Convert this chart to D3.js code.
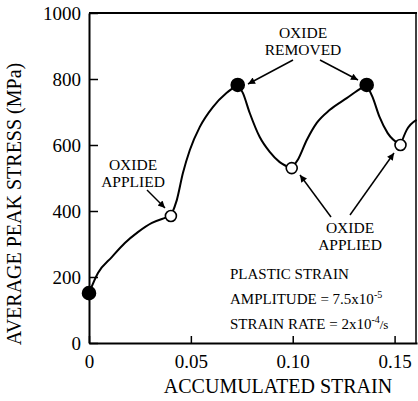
<!DOCTYPE html>
<html>
<head>
<meta charset="utf-8">
<script src="https://cdn.jsdelivr.net/npm/d3@7"></script>
<style>
body{margin:0;background:#fff}
svg text{font-family:"Liberation Serif","Times New Roman",serif !important;fill:#000}
</style>
</head>
<body>
<div id="chart"></div>
<script>
// ---- data ----
var yTicks = [0, 200, 400, 600, 800, 1000];
var yTickLabels = ["0", "200", "400", "600", "800", "1000"];
var xTicks = [0, 0.05, 0.10, 0.15];
var xTickLabels = ["0", "0.05", "0.10", "0.15"];

var markerStrain = [0, 0.0402, 0.0730, 0.0995, 0.1363, 0.1529];
var markerStress = [151, 385, 782, 530, 782, 600];
var markerFilled = [true, false, true, false, true, false];

// curve pieces between markers (the curve has a corner at each marker)
var pathStrain = [
  [0, 0.0044, 0.0113, 0.0176, 0.0240, 0.0309, 0.0373, 0.0402],
  [0.0402, 0.0431, 0.0461, 0.0495, 0.0544, 0.0608, 0.0676, 0.0730],
  [0.0730, 0.0755, 0.0789, 0.0838, 0.0887, 0.0936, 0.0995],
  [0.0995, 0.1025, 0.1069, 0.1118, 0.1181, 0.1265, 0.1338, 0.1363],
  [0.1363, 0.1392, 0.1426, 0.1466, 0.1529],
  [0.1529, 0.1559, 0.1608]
];
var pathStress = [
  [151, 212, 261, 303, 336, 364, 379, 385],
  [385, 433, 515, 585, 655, 715, 758, 782],
  [782, 758, 697, 624, 579, 548, 530],
  [530, 555, 615, 667, 706, 742, 773, 782],
  [782, 745, 685, 636, 600],
  [600, 645, 676]
];

var W = 418, H = 401;
var serif = '"Liberation Serif","Times New Roman",serif';
var x = d3.scaleLinear().domain([0, 0.161]).range([89, 417]);
var y = d3.scaleLinear().domain([0, 1000]).range([343, 13]);

var svg = d3.select("#chart").append("svg").attr("width", W).attr("height", H)
  .style("font-family", serif);

svg.append("defs").append("marker")
  .attr("id", "arr").attr("viewBox", "0 0 10 10").attr("refX", 10).attr("refY", 5)
  .attr("markerWidth", 9).attr("markerHeight", 7).attr("markerUnits", "userSpaceOnUse")
  .attr("orient", "auto")
  .append("path").attr("d", "M0,0L10,5L0,10z").attr("fill", "#000");

// frame
svg.append("line").attr("x1", x(0)).attr("x2", x(0.161)).attr("y1", y(1000)).attr("y2", y(1000))
  .attr("stroke", "#000").attr("stroke-width", 2);
svg.append("line").attr("x1", x(0.161) - 1).attr("x2", x(0.161) - 1).attr("y1", y(1000)).attr("y2", y(0))
  .attr("stroke", "#000").attr("stroke-width", 1.5);

// axes
var yAxis = svg.append("g").attr("transform", "translate(" + x(0) + ",0)")
  .call(d3.axisLeft(y).tickValues(yTicks).tickSizeInner(-9).tickSizeOuter(0)
    .tickFormat(function(d, i) { return yTickLabels[i]; }).tickPadding(8));
var xAxis = svg.append("g").attr("transform", "translate(0," + y(0) + ")")
  .call(d3.axisBottom(x).tickValues(xTicks).tickSizeInner(-7).tickSizeOuter(0)
    .tickFormat(function(d, i) { return xTickLabels[i]; }).tickPadding(12));
[yAxis, xAxis].forEach(function(g) {
  g.attr("font-family", serif);
  g.select(".domain").attr("stroke-width", 2);
  g.selectAll(".tick line").attr("stroke-width", 1.5);
  g.selectAll(".tick text").style("font-family", serif).attr("font-size", 19);
});

svg.append("text").attr("transform", "translate(21,204) rotate(-90)")
  .attr("text-anchor", "middle").attr("font-size", 20).text("AVERAGE PEAK STRESS (MPa)");
svg.append("text").attr("x", 278).attr("y", 393)
  .attr("text-anchor", "middle").attr("font-size", 20).text("ACCUMULATED STRAIN");

// curve
var line = d3.line().x(function(d) { return x(d[0]); }).y(function(d) { return y(d[1]); })
  .curve(d3.curveMonotoneX);
pathStrain.forEach(function(s, k) {
  svg.append("path").datum(d3.zip(s, pathStress[k]))
    .attr("d", line).attr("fill", "none").attr("stroke", "#000").attr("stroke-width", 2);
});

svg.selectAll("circle.pt").data(d3.range(markerStrain.length)).enter().append("circle")
  .attr("class", "pt")
  .attr("cx", function(i) { return x(markerStrain[i]); })
  .attr("cy", function(i) { return y(markerStress[i]); })
  .attr("r", function(i) { return markerFilled[i] ? 6.5 : 5.5; })
  .attr("fill", function(i) { return markerFilled[i] ? "#000" : "#fff"; })
  .attr("stroke", "#000").attr("stroke-width", 1.6);

// annotations
function label(lines, cx, y0, dy, size) {
  lines.forEach(function(t, i) {
    svg.append("text").attr("x", cx).attr("y", y0 + i * dy).attr("text-anchor", "middle")
      .attr("font-size", size).text(t);
  });
}
label(["OXIDE", "REMOVED"], 303, 38, 17, 15.5);
label(["OXIDE", "APPLIED"], 133, 170, 17, 15.5);
label(["OXIDE", "APPLIED"], 350, 233, 17, 15.5);

function arrow(x1, y1, x2, y2) {
  svg.append("line").attr("x1", x1).attr("y1", y1).attr("x2", x2).attr("y2", y2)
    .attr("stroke", "#000").attr("stroke-width", 1.5).attr("marker-end", "url(#arr)");
}
arrow(293, 60, 248, 84);
arrow(320, 60, 358, 80);
arrow(147, 190, 165, 208);
arrow(331, 217, 300, 175);
arrow(350, 215, 394, 153);

var inset = [
  ["PLASTIC STRAIN", "", ""],
  ["AMPLITUDE = 7.5x10", "-5", ""],
  ["STRAIN RATE = 2x10", "-4", "/s"]
];
inset.forEach(function(r, i) {
  var t = svg.append("text").attr("x", 230).attr("y", 279 + i * 25).attr("font-size", 15);
  t.append("tspan").text(r[0]);
  if (r[1]) t.append("tspan").attr("font-size", 10).attr("dy", -6).text(r[1]);
  if (r[2]) t.append("tspan").attr("font-size", 13).attr("dy", 6).text(r[2]);
});
</script>
</body>
</html>
